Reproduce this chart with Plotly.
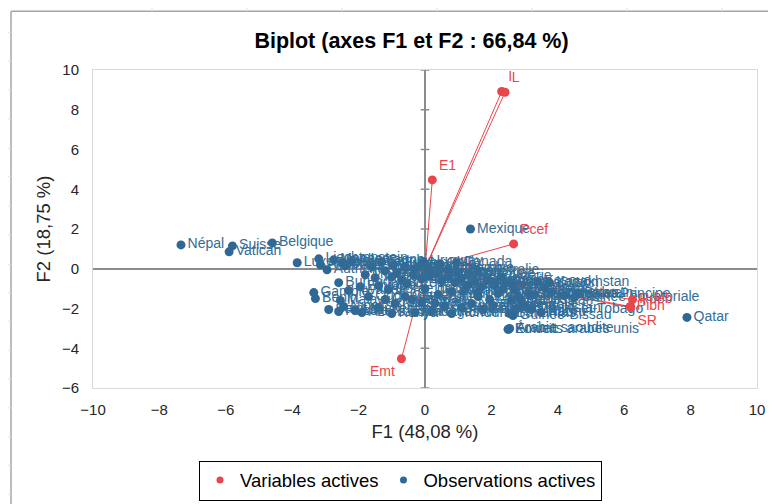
import plotly.graph_objects as go

# Variables actives (coordonnées sur F1 / F2)
var_names = ["I", "L", "E1", "Pcef", "Emt", "Rdeb", "Pibh", "SR"]
var_f1 = [2.31, 2.41, 0.22, 2.67, -0.71, 6.25, 6.18, 6.20]
var_f2 = [8.92, 8.88, 4.47, 1.25, -4.53, -1.55, -1.90, -1.95]

# Observations actives
obs_names = [
    "Népal", "Suisse", "Vatican", "Belgique", "Luxembourg", "Gambie", "Bénin",
    "Liechtenstein", "Andorre", "Monaco", "Autriche", "Danemark", "Pays-Bas",
    "Allemagne", "Burundi", "Rwanda", "Malawi", "Niger", "Mali", "Russie",
    "Azerbaïdjan", "Ouganda", "Éthiopie", "Tanzanie", "Zambie", "Zimbabwe",
    "Mozambique", "France", "Italie", "Espagne", "Portugal", "Grèce", "Japon",
    "Corée du Sud", "Suède", "Norvège", "Finlande", "Irlande", "Islande",
    "Pologne", "Hongrie", "Tchéquie", "Slovaquie", "Croatie", "Serbie",
    "Roumanie", "Bulgarie", "Ukraine", "Biélorussie", "Moldavie", "Géorgie",
    "Arménie", "Turquie", "Iran", "Irak", "Égypte", "Maroc", "Tunisie",
    "Algérie", "Libye", "Soudan", "Tchad", "Cameroun", "Nigeria", "Ghana",
    "Sénégal", "Togo", "Congo", "Kenya", "Madagascar", "Haïti",
    "Saint-Vincent-et-les-Grenadines", "Honduras", "Guatemala", "Nicaragua",
    "Bolivie", "Pérou", "Équateur", "Colombie", "Brésil", "Argentine", "Chili",
    "Uruguay", "Canada", "Australie", "Inde", "Chine", "Îles Salomon",
    "Kazakhstan", "Ouzbékistan", "Turkménistan", "Indonésie", "Malaisie",
    "Brunei", "Oman", "Bahreïn", "Sao Tomé-et-Principe", "Guinée équatoriale",
    "Gabon", "Angola", "Guinée-Bissau", "Nauru", "Trinité-et-Tobago", "Bahamas",
    "Arabie saoudite", "Koweït", "Émirats arabes unis", "Singapour", "Israël",
    "Qatar", "Mexique", "Kosovo", "Tadjikistan",
]
obs_f1 = [
    -7.35, -5.80, -5.90, -4.60, -3.85, -3.35, -3.30,
    -3.20, -3.15, -2.75, -2.95, -2.50, -2.40,
    -2.20, -2.60, -2.30, -2.55, -2.45, -2.10, -2.60,
    -1.90, -1.70, -1.95, -1.50, -1.30, -1.60,
    -1.80, -1.20, -1.00, -0.85, -0.70, -0.55, -1.40,
    -1.10, -0.95, -0.60, -0.30, -0.20, 0.10,
    -0.35, -0.10, 0.15, 0.35, 0.50, 0.70,
    0.90, 1.10, 1.30, 1.50, 1.70, 1.90,
    2.10, 1.60, 1.20, 2.20, 0.80, 0.40, 0.00,
    2.30, 1.95, -0.40, -0.10, -0.60, -0.90, -1.20,
    -1.40, 0.30, 0.60, -1.00, -0.30, 0.20,
    -2.90, 0.80, 1.10, 1.40,
    1.75, 1.60, 2.05, 0.70, 1.00, 1.30, 0.45,
    -0.05, 0.95, 1.60, 2.35, 2.45, 2.60,
    3.75, 2.75, 3.10, 2.60, 3.30,
    3.80, 4.20, 4.60, 3.15, 4.50,
    2.80, 3.00, 2.65, 3.50, 3.20, 2.55,
    2.55, 2.50, 2.52, 2.70, 3.60,
    7.89, 1.37, 3.40, 2.90,
]
obs_f2 = [
    1.20, 1.15, 0.85, 1.30, 0.30, -1.20, -1.50,
    0.50, 0.20, 0.45, -0.05, 0.30, 0.15,
    0.40, -0.70, -1.10, -1.60, -1.90, -2.10, -2.15,
    -2.20, -1.40, -0.90, -0.45, 0.35, 0.10,
    -0.30, -0.10, -0.40, -0.20, -0.55, -0.75, -0.85,
    -1.05, 0.20, 0.10, 0.00, 0.10, 0.05,
    -0.30, -0.50, -0.35, -0.20, -0.60, -0.40,
    -0.70, -0.50, -0.80, -0.65, -0.90, -0.60,
    -0.85, -1.20, -1.05, -1.25, -1.15, -1.30, -1.00,
    -0.40, -1.55, -1.55, -1.70, -1.40, -1.75, -1.55,
    -1.95, -1.75, -1.90, -2.25, -2.20, -2.15,
    -2.05, -2.25, -1.95, -1.75,
    -2.05, -1.40, -1.85, 0.00, -0.15, -0.30, 0.25,
    0.35, 0.30, -0.10, -1.00, -0.70, -0.75,
    -0.70, -2.00, -1.25, -1.60, -1.30,
    -1.20, -1.35, -1.25, -1.30, -1.45,
    -1.40, -1.85, -2.35, -2.20, -2.05, -2.25,
    -3.00, -3.05, -3.05, -1.05, -0.95,
    -2.45, 2.00, -0.65, -1.60,
]

y_ticks = [-6, -4, -2, 0, 2, 4, 6, 8, 10]

RED = "#E8464A"
BLUE = "#2F6896"
FONT = "Liberation Sans, Arial, sans-serif"

var_pos = {"I": "top right", "L": "top right", "E1": "top right", "Pcef": "top right",
           "Emt": "bottom left", "Rdeb": "middle right", "Pibh": "middle right",
           "SR": "bottom right"}

fig = go.Figure()

# Segments origine -> variables
seg_x, seg_y = [], []
for x, y in zip(var_f1, var_f2):
    seg_x += [0, x, None]
    seg_y += [0, y, None]
fig.add_trace(go.Scatter(
    x=seg_x, y=seg_y, mode="lines",
    line=dict(color=RED, width=1), hoverinfo="skip", showlegend=False
))

# Observations
fig.add_trace(go.Scatter(
    x=obs_f1, y=obs_f2, mode="markers+text", text=obs_names,
    textposition="middle right",
    textfont=dict(family=FONT, size=14, color="#336C96"),
    marker=dict(color=BLUE, size=9),
    name="Observations actives", showlegend=False
))

# Variables
fig.add_trace(go.Scatter(
    x=var_f1, y=var_f2, mode="markers+text", text=var_names,
    textposition=[var_pos[n] for n in var_names],
    textfont=dict(family=FONT, size=14, color=RED),
    marker=dict(color=RED, size=9),
    name="Variables actives", showlegend=False
))

# Entrées de légende
fig.add_trace(go.Scatter(x=[None], y=[None], mode="markers",
                         marker=dict(color=RED, size=7), name="Variables actives"))
fig.add_trace(go.Scatter(x=[None], y=[None], mode="markers",
                         marker=dict(color=BLUE, size=7), name="Observations actives"))

# Petites graduations croisées sur l'axe vertical
shapes = []
for t in y_ticks:
    shapes.append(dict(type="line", xref="x", yref="y", x0=-0.13, x1=0.13, y0=t, y1=t,
                       line=dict(color="#8c8c8c", width=1.5), layer="below"))

# la page html a une marge de 8 px autour du graphique
OFF = 8
L, T, W, H = 93 - OFF, 70 - OFF, 664, 320
def px(x):
    return (x - OFF - L) / W
def py(y):
    return (T + H - (y - OFF)) / H

# Cadre du graphique (feuille de calcul)
shapes.append(dict(type="line", xref="paper", yref="paper", x0=px(11), x1=px(11),
                   y0=py(11), y1=py(520), line=dict(color="#a6a6a6", width=1.5)))
shapes.append(dict(type="line", xref="paper", yref="paper", x0=px(11), x1=px(790),
                   y0=py(11), y1=py(11), line=dict(color="#a6a6a6", width=1.5)))
for yy in [32, 61, 90, 119, 149, 177, 207, 236, 266, 294, 323, 352, 381, 410, 439, 468, 497]:
    shapes.append(dict(type="line", xref="paper", yref="paper", x0=px(6), x1=px(11),
                       y0=py(yy), y1=py(yy), line=dict(color="#e0e0e0", width=1)))
for xx in [152, 247, 342, 437, 532, 627, 722]:
    shapes.append(dict(type="line", xref="paper", yref="paper", x0=px(xx), x1=px(xx),
                       y0=py(5), y1=py(11), line=dict(color="#e0e0e0", width=1)))

fig.update_layout(
    width=776, height=504,
    margin=dict(l=L, r=776 - L - W, t=T, b=504 - T - H),
    paper_bgcolor="white", plot_bgcolor="white",
    title=dict(text="<b>Biplot (axes F1 et F2 : 66,84 %)</b>",
               xref="container", x=(411.5 - OFF) / 776, xanchor="center",
               yref="container", y=1 - (40 - OFF) / 504, yanchor="middle",
               font=dict(family=FONT, size=21.5, color="black")),
    font=dict(family=FONT, color="#404040"),
    shapes=shapes,
    showlegend=True,
    legend=dict(orientation="h", x=px(199), xanchor="left", y=py(463), yanchor="top",
                bordercolor="black", borderwidth=1, bgcolor="white",
                font=dict(family=FONT, size=18.5, color="black"),
                itemwidth=30),
    xaxis=dict(range=[-10, 10], tick0=-10, dtick=2, showgrid=False, automargin=False,
               zeroline=True, zerolinecolor="#8c8c8c", zerolinewidth=2,
               showline=True, mirror=True, linecolor="#d9d9d9", linewidth=1,
               ticks="outside", ticklen=8, tickcolor="rgba(0,0,0,0)",
               tickfont=dict(size=15, color="#262626"),
               title=dict(text="F1 (48,08 %)", standoff=8,
                          font=dict(size=18.5, color="#262626"))),
    yaxis=dict(range=[-6, 10], tick0=-6, dtick=2, showgrid=False, automargin=False,
               zeroline=True, zerolinecolor="#8c8c8c", zerolinewidth=1.5,
               showline=True, mirror=True, linecolor="#d9d9d9", linewidth=1,
               ticks="outside", ticklen=10, tickcolor="rgba(0,0,0,0)",
               tickfont=dict(size=15, color="#262626"),
               title=dict(text="F2 (18,75 %)", standoff=6,
                          font=dict(size=18.5, color="#262626"))),
)

fig.write_html("out.html")
